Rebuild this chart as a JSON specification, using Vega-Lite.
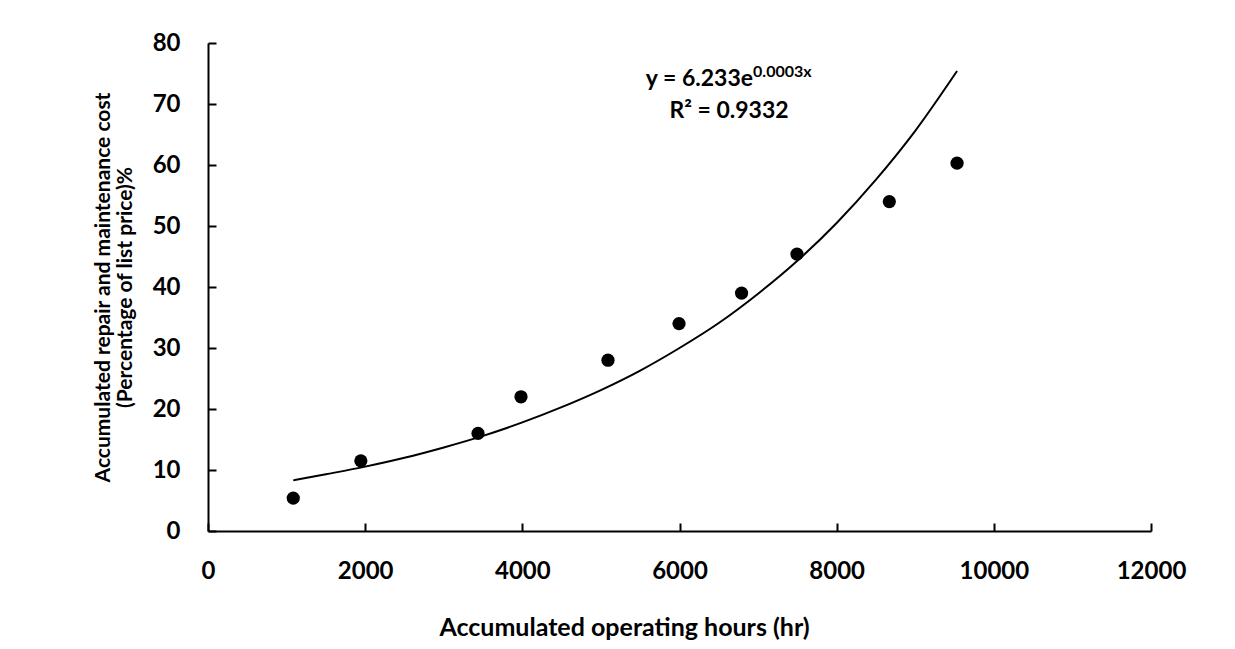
{
  "$schema": "https://vega.github.io/schema/vega-lite/v6.json",
  "autosize": "none",
  "padding": {"left": 208, "top": 43, "right": 84, "bottom": 118},
  "width": 943,
  "height": 488,
  "background": "white",
  "config": {
    "view": {"stroke": null},
    "font": "Lato",
    "axis": {
      "grid": false,
      "domainColor": "black",
      "domainWidth": 2,
      "tickColor": "black",
      "tickWidth": 2,
      "tickSize": -8,
      "labelFlush": false,
      "labelFont": "Lato",
      "labelFontWeight": "bold",
      "labelFontSize": 24,
      "labelColor": "black",
      "titleFont": "Lato",
      "titleFontWeight": "bold",
      "titleColor": "black"
    }
  },
  "datasets": {
    "pts": [
      {"hours": 1085, "cost": 5.4},
      {"hours": 1945, "cost": 11.5},
      {"hours": 3436, "cost": 16.0},
      {"hours": 3983, "cost": 22.0},
      {"hours": 5090, "cost": 28.0},
      {"hours": 5994, "cost": 34.0},
      {"hours": 6790, "cost": 39.0},
      {"hours": 7495, "cost": 45.4},
      {"hours": 8670, "cost": 54.0},
      {"hours": 9532, "cost": 60.3}
    ],
    "trend": [
      {"hours": 1085, "cost": 8.3},
      {"hours": 1500, "cost": 9.3},
      {"hours": 2000, "cost": 10.55},
      {"hours": 2500, "cost": 12.0},
      {"hours": 3000, "cost": 13.7},
      {"hours": 3500, "cost": 15.6},
      {"hours": 4000, "cost": 17.8},
      {"hours": 4500, "cost": 20.3},
      {"hours": 5000, "cost": 23.1},
      {"hours": 5500, "cost": 26.3},
      {"hours": 6000, "cost": 30.0},
      {"hours": 6500, "cost": 34.1},
      {"hours": 7000, "cost": 38.9},
      {"hours": 7500, "cost": 44.3},
      {"hours": 8000, "cost": 50.5},
      {"hours": 8500, "cost": 57.6},
      {"hours": 9000, "cost": 65.6},
      {"hours": 9532, "cost": 75.4}
    ],
    "eq": [
      {"x": 6936, "y": 72.95, "label": "y = 6.233e"}
    ],
    "sup": [
      {"x": 6936, "y": 74.4, "label": "0.0003x"}
    ],
    "r2": [
      {"x": 6630, "y": 67.7, "label": "R² = 0.9332"}
    ]
  },
  "layer": [
    {
      "data": {"name": "trend"},
      "mark": {"type": "line", "color": "black", "strokeWidth": 2, "interpolate": "monotone"},
      "encoding": {
        "x": {
          "field": "hours", "type": "quantitative",
          "scale": {"domain": [0, 12000], "nice": false},
          "axis": {
            "values": [0, 2000, 4000, 6000, 8000, 10000, 12000],
            "labelPadding": 36,
            "title": "Accumulated operating hours (hr)",
            "titleFontSize": 25,
            "titleX": 416,
            "titleAnchor": "middle",
            "titlePadding": 32,
            "format": "d"
          }
        },
        "y": {
          "field": "cost", "type": "quantitative",
          "scale": {"domain": [0, 80], "nice": false},
          "axis": {
            "values": [0, 10, 20, 30, 40, 50, 60, 70, 80],
            "labelPadding": 36,
            "title": ["Accumulated repair and maintenance cost", "(Percentage of list price)%"],
            "titleFontSize": 21,
            "titleLineHeight": 22,
            "titlePadding": 17
          }
        }
      }
    },
    {
      "data": {"name": "pts"},
      "mark": {"type": "point", "filled": true, "color": "black", "opacity": 1, "size": 175},
      "encoding": {
        "x": {"field": "hours", "type": "quantitative"},
        "y": {"field": "cost", "type": "quantitative"}
      }
    },
    {
      "data": {"name": "eq"},
      "mark": {"type": "text", "align": "right", "baseline": "alphabetic", "fontSize": 23, "fontWeight": "bold", "font": "Lato", "color": "black"},
      "encoding": {
        "x": {"field": "x", "type": "quantitative"},
        "y": {"field": "y", "type": "quantitative"},
        "text": {"field": "label"}
      }
    },
    {
      "data": {"name": "sup"},
      "mark": {"type": "text", "align": "left", "baseline": "alphabetic", "fontSize": 16, "fontWeight": "bold", "font": "Lato", "color": "black"},
      "encoding": {
        "x": {"field": "x", "type": "quantitative"},
        "y": {"field": "y", "type": "quantitative"},
        "text": {"field": "label"}
      }
    },
    {
      "data": {"name": "r2"},
      "mark": {"type": "text", "align": "center", "baseline": "alphabetic", "fontSize": 23, "fontWeight": "bold", "font": "Lato", "color": "black"},
      "encoding": {
        "x": {"field": "x", "type": "quantitative"},
        "y": {"field": "y", "type": "quantitative"},
        "text": {"field": "label"}
      }
    }
  ]
}
